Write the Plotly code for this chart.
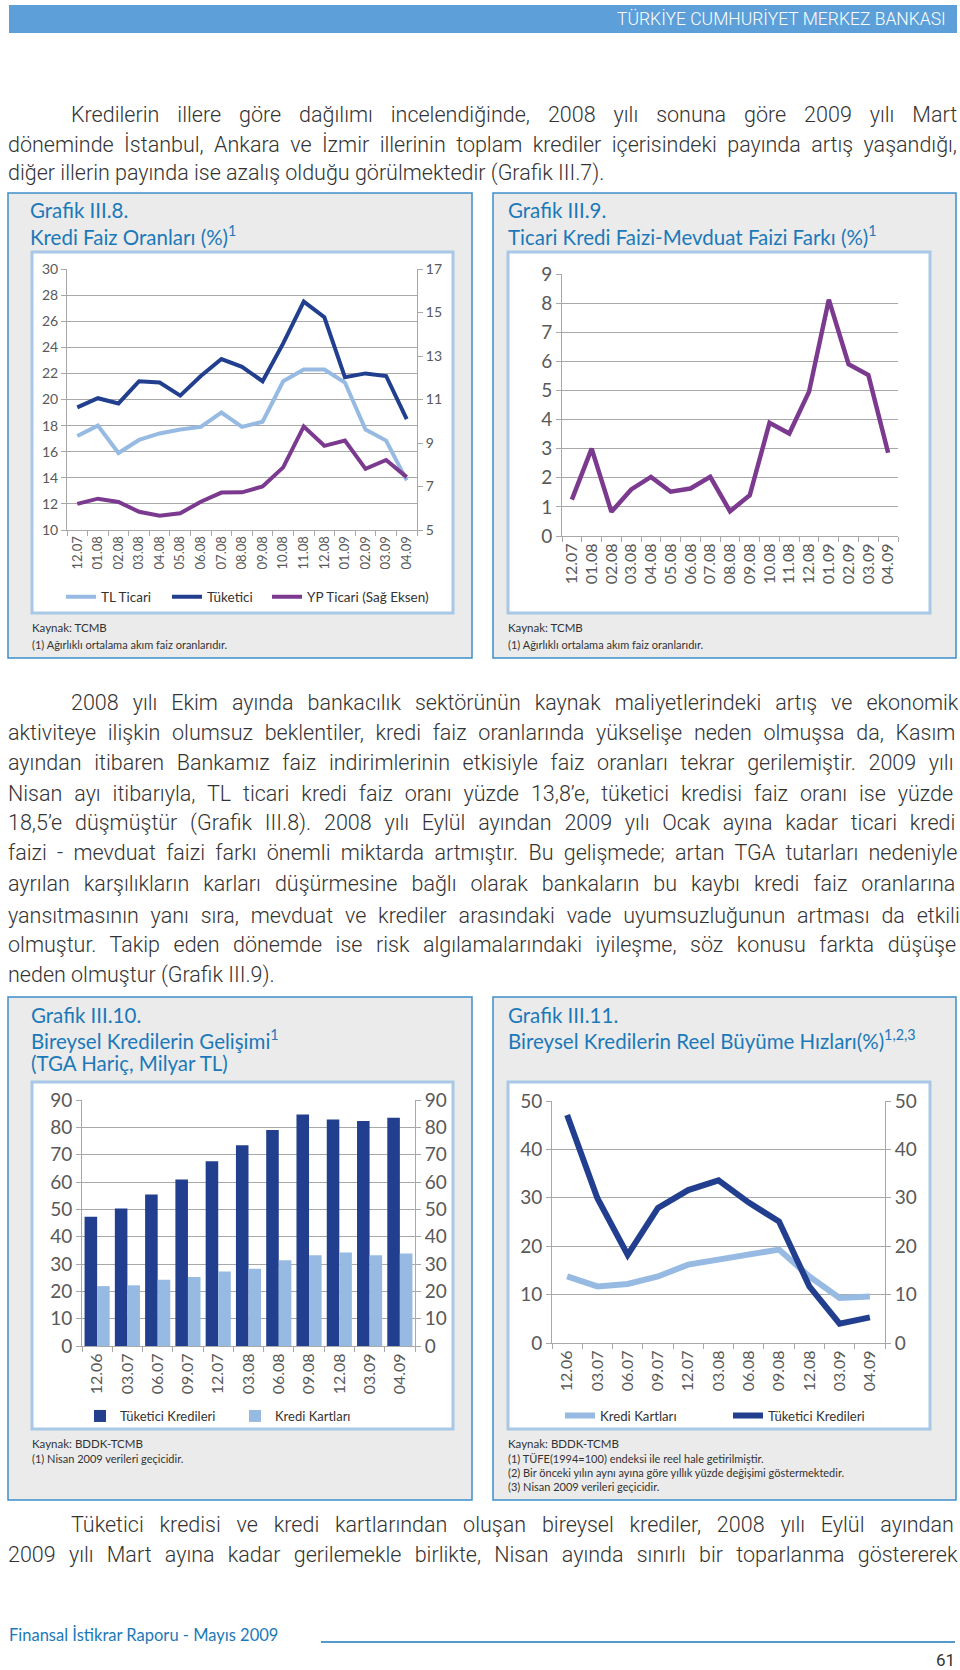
import plotly.graph_objects as go

# ---------------- data ----------------
months_a = ["12.07", "01.08", "02.08", "03.08", "04.08", "05.08", "06.08", "07.08", "08.08",
            "09.08", "10.08", "11.08", "12.08", "01.09", "02.09", "03.09", "04.09"]
tl_ticari = [17.2, 18.0, 15.9, 16.9, 17.4, 17.7, 17.9, 19.0, 17.9, 18.3, 21.4, 22.3, 22.3, 21.3, 17.7, 16.85, 13.8]
tuketici_faiz = [19.4, 20.1, 19.7, 21.4, 21.3, 20.3, 21.8, 23.1, 22.5, 21.4, 24.3, 27.5, 26.3, 21.7, 22.0, 21.8, 18.5]
yp_ticari = [6.2, 6.44, 6.29, 5.84, 5.66, 5.77, 6.3, 6.72, 6.73, 7.0, 7.88, 9.76, 8.87, 9.11, 7.81, 8.22, 7.43]
faiz_farki = [1.25, 3.0, 0.83, 1.6, 2.03, 1.52, 1.63, 2.03, 0.85, 1.4, 3.89, 3.52, 4.96, 8.12, 5.9, 5.53, 2.86]

months_b = ["12.06", "03.07", "06.07", "09.07", "12.07", "03.08", "06.08", "09.08", "12.08", "03.09", "04.09"]
tuketici_kredi = [47.3, 50.3, 55.4, 60.9, 67.6, 73.4, 79.0, 84.7, 82.9, 82.3, 83.5]
kredi_karti = [21.9, 22.2, 24.2, 25.2, 27.3, 28.3, 31.4, 33.2, 34.2, 33.2, 33.8]
kk_buyume = [13.75, 11.7, 12.2, 13.75, 16.2, 17.2, 18.2, 19.3, 13.75, 9.3, 9.6]
tk_buyume = [47.1, 29.9, 18.2, 27.9, 31.6, 33.6, 29.0, 25.1, 11.7, 4.0, 5.3]

para1 = [
    "Kredilerin illere göre dağılımı incelendiğinde, 2008 yılı sonuna göre 2009 yılı Mart",
    "döneminde İstanbul, Ankara ve İzmir illerinin toplam krediler içerisindeki payında artış yaşandığı,",
    "diğer illerin payında ise azalış olduğu görülmektedir (Grafik III.7).",
]
para2 = [
    "2008 yılı Ekim ayında bankacılık sektörünün kaynak maliyetlerindeki artış ve ekonomik",
    "aktiviteye ilişkin olumsuz beklentiler, kredi faiz oranlarında yükselişe neden olmuşsa da, Kasım",
    "ayından itibaren Bankamız faiz indirimlerinin etkisiyle faiz oranları tekrar gerilemiştir. 2009 yılı",
    "Nisan ayı itibarıyla, TL ticari kredi faiz oranı yüzde 13,8’e, tüketici kredisi faiz oranı ise yüzde",
    "18,5’e düşmüştür (Grafik III.8). 2008 yılı Eylül ayından 2009 yılı Ocak ayına kadar ticari kredi",
    "faizi - mevduat faizi farkı önemli miktarda artmıştır. Bu gelişmede; artan TGA tutarları nedeniyle",
    "ayrılan karşılıkların karları düşürmesine bağlı olarak bankaların bu kaybı kredi faiz oranlarına",
    "yansıtmasının yanı sıra, mevduat ve krediler arasındaki vade uyumsuzluğunun artması da etkili",
    "olmuştur. Takip eden dönemde ise risk algılamalarındaki iyileşme, söz konusu farkta düşüşe",
    "neden olmuştur (Grafik III.9).",
]
para3 = [
    "Tüketici kredisi ve kredi kartlarından oluşan bireysel krediler, 2008 yılı Eylül ayından",
    "2009 yılı Mart ayına kadar gerilemekle birlikte, Nisan ayında sınırlı bir toparlanma göstererek",
]

# ---------------- helpers ----------------
W, H = 960, 1670
def px(x): return x / W
def py(y): return 1 - y / H

LIGHT = "#97bae3"
DARK = "#213f8e"
PURPLE = "#7b3a8f"
TITLE_C = "#1b79b9"
TICK_C = "#595959"
GRID_C = "#a8a8a8"
FONT = "Lato, Roboto, sans-serif"
BODY_FONT = "Roboto, sans-serif"

EM = {' ': .248, 'a': .544, 'b': .561, 'c': .523, 'd': .564, 'e': .530, 'f': .347, 'g': .561, 'h': .551,
      'i': .243, 'j': .239, 'k': .507, 'l': .243, 'm': .876, 'n': .552, 'o': .570, 'p': .561, 'q': .568,
      'r': .338, 's': .516, 't': .327, 'u': .551, 'v': .484, 'w': .751, 'x': .496, 'y': .473, 'z': .496,
      'ç': .523, 'ğ': .561, 'ı': .243, 'ö': .570, 'ş': .516, 'ü': .551,
      'A': .653, 'B': .622, 'C': .652, 'D': .657, 'E': .568, 'G': .682, 'I': .272, 'İ': .272, 'K': .628,
      'M': .873, 'N': .713, 'O': .688, 'T': .596, 'Ü': .648, 'Y': .601, 'L': .539,
      '.': .263, ',': .196, '(': .342, ')': .348, '-': .276, ';': .212, '’': .2, ':': .242}
def est_w(s, size):
    return sum(EM.get(c, .562) for c in s) * size * 0.985

BODY_SIZE = 21.5
PAD = 2.7
annotations = []

def body_para(lines, ys, justify_last=False, indent_x=72, left=9, right=963):
    for i, (line, y) in enumerate(zip(lines, ys)):
        x0 = indent_x if i == 0 else left
        last = (i == len(lines) - 1)
        txt = line
        if (not last) or justify_last:
            n = line.count(' ')
            ws = (right - x0 - est_w(line, BODY_SIZE)) / max(n, 1)
            txt = f'<span style="word-spacing:{ws:.2f}px">{line}</span>'
        annotations.append(dict(x=px(x0 - PAD), y=py(y), xref="paper", yref="paper", xanchor="left",
                                yanchor="middle", text=txt, showarrow=False,
                                font=dict(family=BODY_FONT, size=BODY_SIZE, color="#333333", weight=300)))

body_para(para1, [114, 144, 173])
body_para(para2, [702, 732, 762, 793, 823, 853, 883, 915, 945, 975])
body_para(para3, [1524, 1554], justify_last=True)

def ann(x, y, text, size, color, anchor="left", weight=None, family=FONT):
    f = dict(family=family, size=size, color=color)
    if weight:
        f["weight"] = weight
    annotations.append(dict(x=px(x), y=py(y), xref="paper", yref="paper", xanchor=anchor, yanchor="middle",
                            text=text, showarrow=False, font=f))

# header / footer texts
ann(948, 19, "TÜRKİYE CUMHURİYET MERKEZ BANKASI", 17.5, "white", anchor="right", family=BODY_FONT, weight=300)
ann(7, 1635, "Finansal İstikrar Raporu - Mayıs 2009", 16.5, TITLE_C)
ann(957, 1660, "61", 17, "#333333", anchor="right", family=BODY_FONT)

# chart titles
TS = 20.5
ann(28, 210, "Grafik III.8.", TS, TITLE_C)
ann(28, 235, "Kredi Faiz Oranları (%)<sup>1</sup>", TS, TITLE_C)
ann(506, 210, "Grafik III.9.", TS, TITLE_C)
ann(506, 235, "Ticari Kredi Faizi-Mevduat Faizi Farkı (%)<sup>1</sup>", TS, TITLE_C)
ann(29, 1015, "Grafik III.10.", TS, TITLE_C)
ann(29, 1039, "Bireysel Kredilerin Gelişimi<sup>1</sup>", TS, TITLE_C)
ann(29, 1063, "(TGA Hariç, Milyar TL)", TS, TITLE_C)
ann(506, 1015, "Grafik III.11.", TS, TITLE_C)
ann(506, 1039, "Bireysel Kredilerin Reel Büyüme Hızları(%)<sup>1,2,3</sup>", TS, TITLE_C)

# sources / notes
NOTE_C = "#333333"
ann(30, 628, "Kaynak: TCMB", 11.5, NOTE_C)
ann(30, 644, "(1) Ağırlıklı ortalama akım faiz oranlarıdır.", 11, NOTE_C)
ann(506, 628, "Kaynak: TCMB", 11.5, NOTE_C)
ann(506, 644, "(1) Ağırlıklı ortalama akım faiz oranlarıdır.", 11, NOTE_C)
ann(30, 1443, "Kaynak: BDDK-TCMB", 11.5, NOTE_C)
ann(30, 1458, "(1) Nisan 2009 verileri geçicidir.", 11, NOTE_C)
ann(506, 1443, "Kaynak: BDDK-TCMB", 11.5, NOTE_C)
ann(506, 1458, "(1) TÜFE(1994=100) endeksi ile reel hale getirilmiştir.", 11, NOTE_C)
ann(506, 1472, "(2) Bir önceki yılın aynı ayına göre yıllık yüzde değişimi göstermektedir.", 11, NOTE_C)
ann(506, 1486, "(3) Nisan 2009 verileri geçicidir.", 11, NOTE_C)

# ---------------- shapes ----------------
shapes = []
def rect(x0, y0, x1, y1, fill, line_c, lw):
    shapes.append(dict(type="rect", xref="paper", yref="paper", x0=px(x0), x1=px(x1), y0=py(y1), y1=py(y0),
                       fillcolor=fill, line=dict(color=line_c, width=lw), layer="below"))

rect(9, 5, 957, 33, "#5c9fd9", "#5c9fd9", 0)
for (x0, x1, y0, y1) in [(8, 472, 193, 658), (493, 956, 193, 658), (8, 472, 997, 1500), (493, 956, 997, 1500)]:
    rect(x0, y0, x1, y1, "#ebebeb", "#3f8fca", 1.5)
for (x0, x1, y0, y1) in [(32, 453, 252, 613), (508, 930, 252, 613), (32, 453, 1082, 1429), (508, 930, 1082, 1429)]:
    rect(x0, y0, x1, y1, "white", "#a9c7e6", 3)
shapes.append(dict(type="line", xref="paper", yref="paper", x0=px(321), x1=px(955), y0=py(1642), y1=py(1642),
                   line=dict(color=TITLE_C, width=1.5)))

# ---------------- traces ----------------
fig = go.Figure()
# Chart III.8
fig.add_trace(go.Scatter(x=months_a, y=tl_ticari, name="TL Ticari", mode="lines",
                         line=dict(color=LIGHT, width=4), xaxis="x", yaxis="y", legend="legend"))
fig.add_trace(go.Scatter(x=months_a, y=tuketici_faiz, name="Tüketici", mode="lines",
                         line=dict(color=DARK, width=4), xaxis="x", yaxis="y", legend="legend2"))
fig.add_trace(go.Scatter(x=months_a, y=yp_ticari, name="YP Ticari (Sağ Eksen)", mode="lines",
                         line=dict(color=PURPLE, width=4), xaxis="x", yaxis="y2", legend="legend3"))
# Chart III.9
fig.add_trace(go.Scatter(x=months_a, y=faiz_farki, name="Faiz Farkı", mode="lines", showlegend=False,
                         line=dict(color=PURPLE, width=4.5), xaxis="x2", yaxis="y3"))
# Chart III.10
fig.add_trace(go.Bar(x=months_b, y=tuketici_kredi, name="Tüketici Kredileri", marker=dict(color=DARK, line=dict(width=0)),
                     xaxis="x3", yaxis="y4", legend="legend4"))
fig.add_trace(go.Bar(x=months_b, y=kredi_karti, name="Kredi Kartları", marker=dict(color=LIGHT, line=dict(width=0)),
                     xaxis="x3", yaxis="y4", legend="legend5"))
fig.add_trace(go.Scatter(x=months_b, y=tuketici_kredi, mode="lines", line=dict(width=0), showlegend=False,
                         hoverinfo="skip", xaxis="x3", yaxis="y5"))
# Chart III.11
fig.add_trace(go.Scatter(x=months_b, y=kk_buyume, name="Kredi Kartları", mode="lines",
                         line=dict(color=LIGHT, width=6), xaxis="x4", yaxis="y6", legend="legend6"))
fig.add_trace(go.Scatter(x=months_b, y=tk_buyume, name="Tüketici Kredileri", mode="lines",
                         line=dict(color=DARK, width=6), xaxis="x4", yaxis="y6", legend="legend7"))
fig.add_trace(go.Scatter(x=months_b, y=tk_buyume, mode="lines", line=dict(width=0), showlegend=False,
                         hoverinfo="skip", xaxis="x4", yaxis="y7"))

# ---------------- axes ----------------
def xax(domain, cats, size, anchor):
    return dict(domain=domain, type="category", categoryorder="array", categoryarray=cats,
                range=[-0.5, len(cats) - 0.5], tickangle=-90, ticks="outside", ticklen=5, tickcolor=GRID_C,
                tickson="boundaries", showline=True, linecolor=GRID_C, linewidth=1, showgrid=False,
                zeroline=False, tickfont=dict(family=FONT, size=size, color=TICK_C), anchor=anchor,
                fixedrange=True, automargin=False)

def yax(domain, rng, dtick, size, anchor, side="left", overlaying=None, grid=True):
    d = dict(range=rng, dtick=dtick, tick0=rng[0], showgrid=grid, gridcolor=GRID_C, gridwidth=1,
             showline=True, linecolor=GRID_C, linewidth=1, ticks="outside", ticklen=5, tickcolor=GRID_C,
             zeroline=False, tickfont=dict(family=FONT, size=size, color=TICK_C), anchor=anchor, side=side,
             fixedrange=True, automargin=False)
    if overlaying:
        d["overlaying"] = overlaying
    else:
        d["domain"] = domain
    return d

def leg(x, y, size):
    return dict(orientation="h", x=px(x), y=py(y), xanchor="left", yanchor="middle",
                bgcolor="rgba(0,0,0,0)", font=dict(family=FONT, size=size, color="#333333"))

c1x = [px(67), px(417)]; c1y = [py(530), py(269)]
c2x = [px(562), px(898)]; c2y = [py(536), py(274)]
c3x = [px(82), px(415)]; c3y = [py(1346), py(1100)]
c4x = [px(552), px(885)]; c4y = [py(1343), py(1101)]

fig.update_layout(
    width=W, height=H, autosize=False,
    margin=dict(l=0, r=0, t=0, b=0, pad=0, autoexpand=False),
    paper_bgcolor="white", plot_bgcolor="rgba(0,0,0,0)",
    xaxis=xax(c1x, months_a, 13, "y"),
    yaxis=yax(c1y, [10, 30], 2, 14, "x"),
    yaxis2=yax(None, [5, 17], 2, 14, "x", side="right", overlaying="y", grid=False),
    xaxis2=xax(c2x, months_a, 16, "y3"),
    yaxis3=yax(c2y, [0, 9], 1, 19, "x2"),
    xaxis3=xax(c3x, months_b, 16, "y4"),
    yaxis4=yax(c3y, [0, 90], 10, 19, "x3"),
    yaxis5=yax(None, [0, 90], 10, 19, "x3", side="right", overlaying="y4", grid=False),
    xaxis4=xax(c4x, months_b, 16, "y6"),
    yaxis6=yax(c4y, [0, 50], 10, 19, "x4"),
    yaxis7=yax(None, [0, 50], 10, 19, "x4", side="right", overlaying="y6", grid=False),
    barmode="group", bargap=0.17, bargroupgap=0.0,
    legend=leg(61, 597, 13.5),
    legend2=leg(167, 597, 13.5),
    legend3=leg(267, 597, 13.5),
    legend4=leg(80, 1416, 13),
    legend5=leg(235, 1416, 13),
    legend6=leg(560, 1416, 13.2),
    legend7=leg(728, 1416, 13.2),
    annotations=annotations,
    shapes=shapes,
    showlegend=True,
)

fig.write_html("out.html", config={"displayModeBar": False, "responsive": False},
               post_script="document.body.style.margin='0';document.body.style.padding='0';"
                           "document.documentElement.style.overflow='hidden';")
